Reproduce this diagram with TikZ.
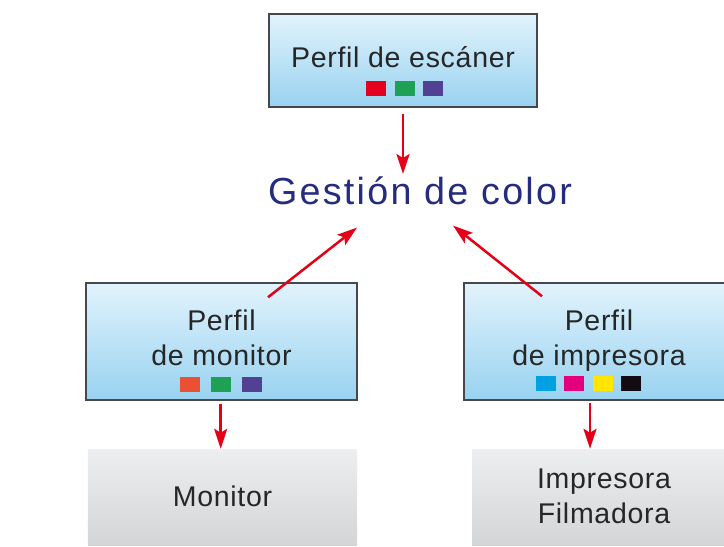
\documentclass[tikz,border=0pt]{standalone}
\usepackage{fontspec}
\setmainfont{Liberation Sans}
\newfontfamily\boxfont[LetterSpace=2.5]{Liberation Sans}
\newfontfamily\titlefont[LetterSpace=6]{Liberation Sans}
\usetikzlibrary{positioning,arrows.meta}
\definecolor{profTop}{RGB}{226,243,252}
\definecolor{profBottom}{RGB}{152,210,240}
\definecolor{devTop}{RGB}{237,238,239}
\definecolor{devBottom}{RGB}{211,213,215}
\definecolor{edgeGray}{RGB}{70,72,75}
\definecolor{textGray}{RGB}{38,38,38}
\definecolor{titleBlue}{RGB}{38,44,125}
\definecolor{flowRed}{RGB}{228,0,22}
\definecolor{swRed}{RGB}{228,0,30}
\definecolor{swOrange}{RGB}{235,80,50}
\definecolor{swGreen}{RGB}{30,160,85}
\definecolor{swPurple}{RGB}{82,64,146}
\definecolor{swCyan}{RGB}{0,160,225}
\definecolor{swMagenta}{RGB}{228,0,125}
\definecolor{swYellow}{RGB}{255,230,0}
\definecolor{swBlack}{RGB}{18,12,18}
\tikzset{
	profile/.style={
		draw=edgeGray,
		line width=1.5bp,
		top color=profTop,
		bottom color=profBottom,
		minimum width=270bp,
		minimum height=117bp,
		inner sep=0pt,
	},
	device/.style={
		top color=devTop,
		bottom color=devBottom,
		minimum width=268bp,
		minimum height=96bp,
		inner sep=0pt,
	},
	boxtext/.style={
		anchor=base,
		align=center,
		inner sep=0pt,
		text=textGray,
		font=\boxfont\fontsize{28.5bp}{35bp}\selectfont,
	},
	swatch/.style={
		minimum width=20bp,
		minimum height=15bp,
		inner sep=0pt,
	},
	flow/.style={
		-{Stealth[length=20bp,width=13bp,inset=4bp]},
		line width=2.5bp,
		draw=flowRed,
	}
}

\begin{document}
\begin{tikzpicture}[x=1bp,y=-1bp]
	\clip (0,0) rectangle (724,547);
	\useasboundingbox (0,0) rectangle (724,547);
	
	% --- Top: scanner profile ---
	\node[profile, minimum width=268bp, minimum height=93bp] (scanprof) at (403,60.5) {};
	\node[boxtext] (scantext) at (403,67.5) {Perfil de escáner};
	\foreach \c [count=\i] in {swRed,swGreen,swPurple}
		\node[swatch, fill=\c] (scansw\i) at ({376+28.5*(\i-1)},88.5) {};
	
	% --- Centre ---
	\node[anchor=base, inner sep=0pt, text=titleBlue,
		font=\titlefont\fontsize{37.7bp}{40bp}\selectfont] (title) at (420,205) {Gestión de color};
	
	% --- Middle row: monitor and printer profiles ---
	% (base of a two-line node = last line)
	\node[profile, minimum width=271bp] (monprof) at (221.5,341.5) {};
	\node[boxtext] (montext) at (221.5,365) {Perfil\\de monitor};
	\foreach \c [count=\i] in {swOrange,swGreen,swPurple}
		\node[swatch, fill=\c] (monsw\i) at ({190+31*(\i-1)},384.5) {};
	
	\node[profile] (prnprof) at (599,341.5) {};
	\node[boxtext] (prntext) at (599,365) {Perfil\\de impresora};
	\foreach \c [count=\i] in {swCyan,swMagenta,swYellow,swBlack}
		\node[swatch, fill=\c] (prnsw\i) at ({545.5+28.5*(\i-1)},383.5) {};
	
	% --- Bottom row: devices ---
	\node[device, minimum width=269bp] (mondev) at (222.5,497) {};
	\node[boxtext] (mondevtext) at (222.5,506) {Monitor};
	\node[device, minimum width=264bp] (prndev) at (604,497) {};
	\node[boxtext] (prndevtext) at (604,523) {Impresora\\Filmadora};
	
	% --- Flows ---
	\draw[flow] ([yshift=-6bp]scanprof.south) -- ([yshift=3bp]scanprof.south |- title.north);
	\draw[flow] ([shift={(46.5bp,-15bp)}]monprof.north) -- ([shift={(-63bp,-22bp)}]title.south);
	\draw[flow] ([shift={(-57bp,-14bp)}]prnprof.north) -- ([shift={(33bp,-20bp)}]title.south);
	\draw[flow] ([shift={(-0.8bp,-3bp)}]monprof.south) -- ([xshift=-0.8bp]monprof.south |- mondev.north);
	\draw[flow] ([shift={(-9bp,-2bp)}]prnprof.south) -- ([xshift=-9bp]prnprof.south |- prndev.north);
\end{tikzpicture}
\end{document}
